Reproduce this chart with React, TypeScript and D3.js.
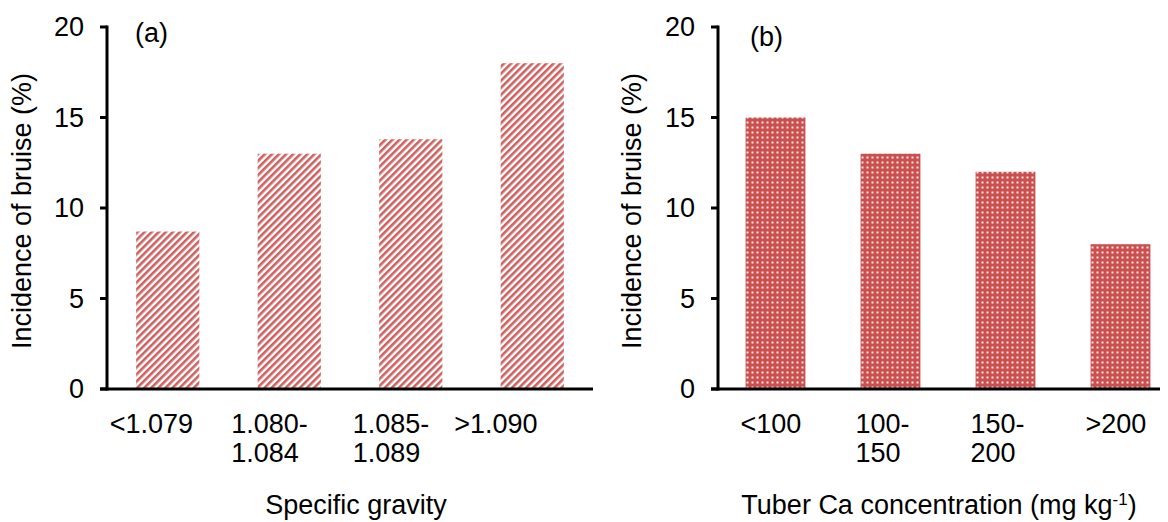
import React from "react";
import * as d3 from "d3";

// Panel (a): bruise incidence by specific gravity class
const gravityClasses = ["<1.079", "1.080-|1.084", "1.085-|1.089", ">1.090"];
const gravityBruise = [8.7, 13, 13.8, 18];

// Panel (b): bruise incidence by tuber Ca concentration class
const calciumClasses = ["<100", "100-|150", "150-|200", ">200"];
const calciumBruise = [15, 13, 12, 8];

const yTicks = [0, 5, 10, 15, 20];

const W = 1168;
const H = 522;
const FONT = "'Liberation Sans', Arial, sans-serif";
const FS = 27;
const RED = "#c9504e";

type PanelProps = {
  categories: string[];
  values: number[];
  xRange: [number, number];
  axisStart: number;
  axisEnd: number;
  fill: string;
  tag: string;
  tagX: number;
  tagY: number;
  labelShift: number;
  yTitleX: number;
  xTitle: React.ReactNode;
  xTitleX: number;
};

function Panel(p: PanelProps) {
  const x = d3
    .scaleBand<string>()
    .domain(p.categories)
    .range(p.xRange)
    .paddingInner(0.48)
    .paddingOuter(0.24);
  const y = d3.scaleLinear().domain([0, 20]).range([389, 27]);
  const axisX = p.xRange[0];
  const tickLen = 7;

  return (
    <g>
      {p.values.map((v, i) => {
        const c = p.categories[i];
        return (
          <rect
            key={c}
            x={x(c)}
            y={y(v)}
            width={x.bandwidth()}
            height={y(0) - y(v)}
            fill={p.fill}
          />
        );
      })}

      {/* y axis */}
      <line x1={axisX} x2={axisX} y1={y(20) - 1.5} y2={y(0) + 1.5} stroke="#000" strokeWidth={3} />
      {yTicks.map((t) => (
        <g key={t}>
          <line x1={axisX - tickLen} x2={axisX} y1={y(t)} y2={y(t)} stroke="#000" strokeWidth={3} />
          <text
            x={axisX - tickLen - 16}
            y={y(t)}
            dy="0.35em"
            textAnchor="end"
            fontSize={FS}
            fontFamily={FONT}
          >
            {t}
          </text>
        </g>
      ))}

      {/* x axis */}
      <line x1={p.axisStart} x2={p.axisEnd} y1={y(0)} y2={y(0)} stroke="#000" strokeWidth={3} />
      {p.categories.map((c, i) => {
        const cx = (x(c) as number) + x.bandwidth() / 2;
        const lines = c.split("|");
        // wrapped labels sit left-aligned; the last single-line label is pulled further left
        const lx = cx - p.labelShift - (i === p.categories.length - 1 && lines.length === 1 && c.length > 4 ? 20 : 0);
        return (
          <text key={c} x={lx} y={433} fontSize={FS} fontFamily={FONT}>
            {lines.map((l, j) => (
              <tspan key={j} x={lx} dy={j === 0 ? 0 : 29}>
                {l}
              </tspan>
            ))}
          </text>
        );
      })}

      <text
        transform={`translate(${p.yTitleX},${211}) rotate(-90)`}
        textAnchor="middle"
        fontSize={FS}
        fontFamily={FONT}
      >
        Incidence of bruise (%)
      </text>

      <text x={p.xTitleX} y={514} textAnchor="middle" fontSize={FS} fontFamily={FONT}>
        {p.xTitle}
      </text>

      <text x={p.tagX} y={p.tagY} fontSize={FS} fontFamily={FONT}>
        {p.tag}
      </text>
    </g>
  );
}

export default function App() {
  return (
    <svg
      width={W}
      height={H}
      viewBox={`0 0 ${W} ${H}`}
      style={{ position: "absolute", left: 0, top: 0, background: "#fff" }}
    >
      <defs>
        <pattern
          id="stripes"
          patternUnits="userSpaceOnUse"
          width={5}
          height={5}
          patternTransform="rotate(45)"
        >
          <rect width={5} height={5} fill="#fff" />
          <rect width={2.6} height={5} fill={RED} opacity={0.9} />
        </pattern>
        <pattern id="dots" patternUnits="userSpaceOnUse" width={5} height={5}>
          <rect width={5} height={5} fill={RED} />
          <rect x={1.5} y={1.5} width={2} height={2} fill="#fff" opacity={0.85} />
        </pattern>
      </defs>

      <Panel
        categories={gravityClasses}
        values={gravityBruise}
        xRange={[107, 593]}
        axisStart={100}
        axisEnd={593}
        fill="url(#stripes)"
        tag="(a)"
        tagX={135}
        tagY={42}
        labelShift={58}
        yTitleX={31}
        xTitle="Specific gravity"
        xTitleX={356}
      />
      <Panel
        categories={calciumClasses}
        values={calciumBruise}
        xRange={[718, 1178]}
        axisStart={711}
        axisEnd={1160}
        fill="url(#dots)"
        tag="(b)"
        tagX={750}
        tagY={46}
        labelShift={35}
        yTitleX={641}
        xTitle={
          <>
            Tuber Ca concentration (mg kg
            <tspan dy={-9} fontSize={17}>
              -1
            </tspan>
            <tspan dy={9}>)</tspan>
          </>
        }
        xTitleX={939}
      />
    </svg>
  );
}
